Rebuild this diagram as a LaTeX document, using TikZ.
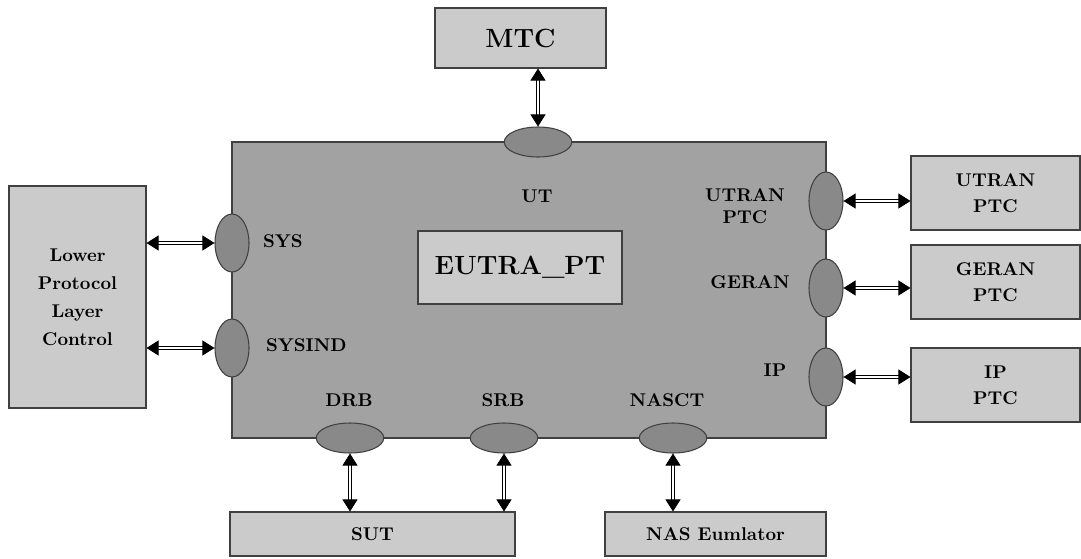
\documentclass[tikz,border=0pt]{standalone}
\usepackage{xcolor}
\usetikzlibrary{arrows.meta,positioning,shapes.geometric}
\definecolor{maingray}{HTML}{A2A2A2}
\definecolor{boxgray}{HTML}{CBCBCB}
\definecolor{portgray}{HTML}{898989}
\begin{document}
\begin{tikzpicture}[font=\bfseries\fontsize{10.5}{13}\selectfont,
  blk/.style={draw=black!75, line width=0.6pt, fill=boxgray,
              minimum width=#1, align=center, inner sep=2pt},
  big/.style={font=\bfseries\fontsize{15}{18}\selectfont},
  port/.style={ellipse, draw=black!75, line width=0.6pt, fill=portgray, inner sep=0pt},
  hport/.style={port, minimum width=13.5mm, minimum height=6mm},
  vport/.style={port, minimum width=6.8mm, minimum height=11.6mm},
  lab/.style={align=center, inner sep=1pt},
  arr/.style={{Triangle[length=2.4mm,width=3mm]}-{Triangle[length=2.4mm,width=3mm]},
              draw=black, line width=0.5pt, double=white, double distance=1.3pt}]
\useasboundingbox (0,0) rectangle (21.62,11.16);
% --- main test component ---
\node[draw=black!75, line width=0.6pt, fill=maingray, minimum width=118.8mm,
      minimum height=59.2mm] (ptc) at (10.58,5.36) {};
\node[blk=40.8mm, minimum height=14.6mm, big] (eutra) at (10.40,5.81) {EUTRA\_PT};
% --- ports ---
\node[hport] (ut)    at (10.76,8.32) {};
\node[vport] (sys)   at (4.64,6.30) {};
\node[vport] (sysind) at (4.64,4.20) {};
\node[vport] (utran) at (16.52,7.14) {};
\node[vport] (geran) at (16.52,5.40) {};
\node[vport] (ip)    at (16.52,3.62) {};
\node[hport] (drb)   at (7.00,2.40) {};
\node[hport] (srb)   at (10.08,2.40) {};
\node[hport] (nasct) at (13.46,2.40) {};
% --- port labels ---
\node[lab] (utlab)     at (10.74,7.24) {UT};
\node[lab, anchor=west] (syslab)    at (5.22,6.34) {SYS};
\node[lab, anchor=west] (sysindlab) at (5.28,4.26) {SYSIND};
\node[lab, font=\bfseries\fontsize{10.5}{12.5}\selectfont] (utranlab) at (14.90,7.04) {UTRAN\\PTC};
\node[lab] (geranlab)  at (15.00,5.52) {GERAN};
\node[lab] (iplab)     at (15.50,3.76) {IP};
\node[lab] (drblab)    at (6.98,3.16) {DRB};
\node[lab] (srblab)    at (10.06,3.16) {SRB};
\node[lab] (nasctlab)  at (13.34,3.16) {NASCT};
% --- outer components ---
\node[blk=34.2mm, minimum height=12mm, big] (mtc) at (10.41,10.40) {MTC};
\node[blk=27.4mm, minimum height=44.4mm, font=\bfseries\fontsize{10.5}{16}\selectfont]
  (lpl) at (1.55,5.22) {Lower\\Protocol\\Layer\\Control};
\node[blk=33.8mm, minimum height=14.8mm, font=\bfseries\fontsize{10.5}{15}\selectfont]
  (utranptc) at (19.91,7.30) {UTRAN\\PTC};
\node[blk=33.8mm, minimum height=14.8mm, font=\bfseries\fontsize{10.5}{15}\selectfont]
  (geranptc) at (19.91,5.52) {GERAN\\PTC};
\node[blk=33.8mm, minimum height=14.8mm, font=\bfseries\fontsize{10.5}{15}\selectfont]
  (ipptc) at (19.91,3.46) {IP\\PTC};
\node[blk=57mm, minimum height=8.8mm] (sut) at (7.45,0.48) {SUT};
\node[blk=44.2mm, minimum height=8.8mm] (nas) at (14.31,0.48) {NAS Eumlator};
% --- connectors ---
\draw[arr] (ut.north) -- (ut.north |- mtc.south);
\draw[arr] (sys.west -| lpl.east) -- (sys.west);
\draw[arr] (sysind.west -| lpl.east) -- (sysind.west);
\draw[arr] (utran.east) -- (utran.east -| utranptc.west);
\draw[arr] (geran.east) -- (geran.east -| geranptc.west);
\draw[arr] (ip.east) -- (ip.east -| ipptc.west);
\draw[arr] (drb.south) -- (drb.south |- sut.north);
\draw[arr] (srb.south) -- (srb.south |- sut.north);
\draw[arr] (nasct.south) -- (nasct.south |- nas.north);
\end{tikzpicture}
\end{document}
